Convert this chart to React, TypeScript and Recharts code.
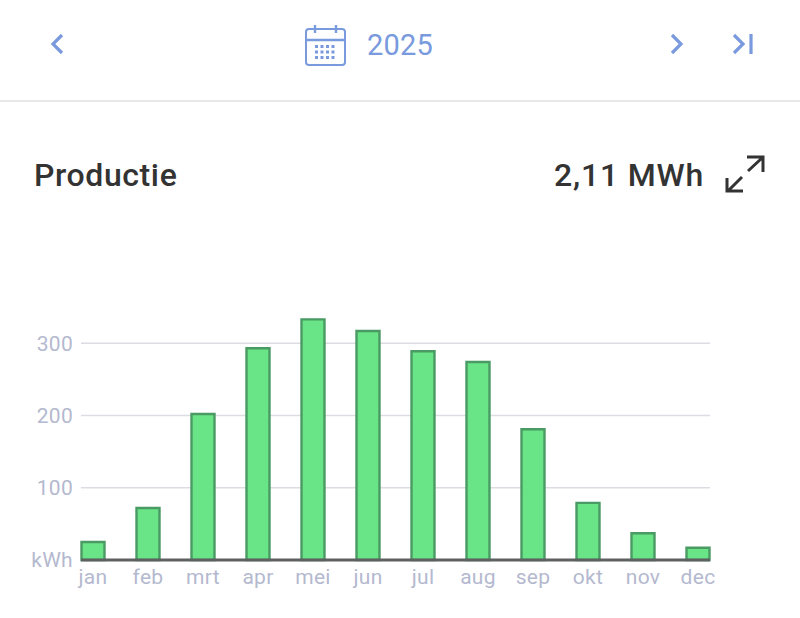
import React from 'react';
import { BarChart, Bar, XAxis, YAxis, CartesianGrid, ReferenceLine } from 'recharts';

const months = ['jan', 'feb', 'mrt', 'apr', 'mei', 'jun', 'jul', 'aug', 'sep', 'okt', 'nov', 'dec'];
const production = [25, 72, 202, 293, 333, 317, 289, 274, 181, 79, 37, 17];
const yTicks = [0, 100, 200, 300];
const gridValues = [100, 200, 300];
const data = months.map((m, i) => ({ month: m, value: production[i] }));

const BLUE = '#7a9ade';
const DARK = '#333333';
const TICK = '#b4b9cf';
const font = 'Roboto, sans-serif';

const abs = (x: number, y: number, extra: React.CSSProperties = {}): React.CSSProperties => ({
  position: 'absolute', left: x, top: y, fontFamily: font, lineHeight: 1, whiteSpace: 'nowrap', ...extra,
});

export default function App() {
  return (
    <div style={{ position: 'absolute', left: 0, top: 0, width: 800, height: 618, background: '#fff', overflow: 'hidden' }}>
      <svg width={800} height={210} style={{ position: 'absolute', left: 0, top: 0 }} fill="none">
        <path d="M62 35 L53 44 L62 53" stroke={BLUE} strokeWidth={3.2} />
        <path d="M672 35 L681 44 L672 53" stroke={BLUE} strokeWidth={3.2} />
        <path d="M734 35 L743 44 L734 53" stroke={BLUE} strokeWidth={3.2} />
        <path d="M751 34 V54" stroke={BLUE} strokeWidth={3.2} />
        <rect x={306} y={29} width={39} height={36} rx={3} stroke={BLUE} strokeWidth={2} />
        <path d="M306 40 H345 M315 25 V33 M336 25 V33" stroke={BLUE} strokeWidth={2.4} />
        <g fill={BLUE}>
          {[45, 50.5, 56].map((y) => [315, 320.5, 326, 331.5].map((x) => (
            <rect key={`${x}-${y}`} x={x} y={y} width={3} height={3} />
          )))}
        </g>
        <rect x={0} y={100} width={800} height={2} fill="#e8e8e8" />
        <path d="M748 171 L762 158 M747 157 H763 V172" stroke={DARK} strokeWidth={3} />
        <path d="M742 177 L729 190 M727 178 V191 H743" stroke={DARK} strokeWidth={3} />
      </svg>
      <div style={abs(367, 31, { fontSize: 29, color: BLUE, letterSpacing: 0.2 })}>2025</div>
      <div style={abs(34, 159, { fontSize: 32, color: DARK, fontWeight: 500, letterSpacing: 0.6 })}>Productie</div>
      <div style={abs(554, 159, { fontSize: 32, color: DARK, fontWeight: 500, letterSpacing: 0.8 })}>2,11 MWh</div>
      <div style={{ position: 'absolute', left: 0, top: 0 }}>
        <BarChart
          width={800}
          height={618}
          data={data}
          margin={{ top: 271, right: 90, bottom: 28, left: 0 }}
          barCategoryGap={0}
        >
          <CartesianGrid vertical={false} stroke="#dcdde3" strokeWidth={1.5} horizontalValues={gridValues} />
          <XAxis
            dataKey="month"
            scale="point"
            padding={{ left: 12, right: 12 }}
            axisLine={false}
            tickLine={false}
            interval={0}
            height={30}
            tick={{ fill: TICK, fontSize: 21, fontFamily: font, letterSpacing: 0.3, dy: 3 }}
            tickMargin={0}
          />
          <YAxis
            type="number"
            domain={[0, 400]}
            ticks={yTicks}
            width={81}
            orientation="left"
            axisLine={false}
            tickLine={false}
            tickMargin={2}
            tickFormatter={(v: number) => (v === 0 ? 'kWh' : String(v))}
            tick={{ fill: TICK, fontSize: 21, fontFamily: font, letterSpacing: 0.3 }}
          />
          <Bar dataKey="value" barSize={23} fill="#69e486" stroke="#4a9a64" strokeWidth={2.4} isAnimationActive={false} />
          <ReferenceLine y={0} stroke="#5f6062" strokeWidth={3} />
        </BarChart>
      </div>
    </div>
  );
}
